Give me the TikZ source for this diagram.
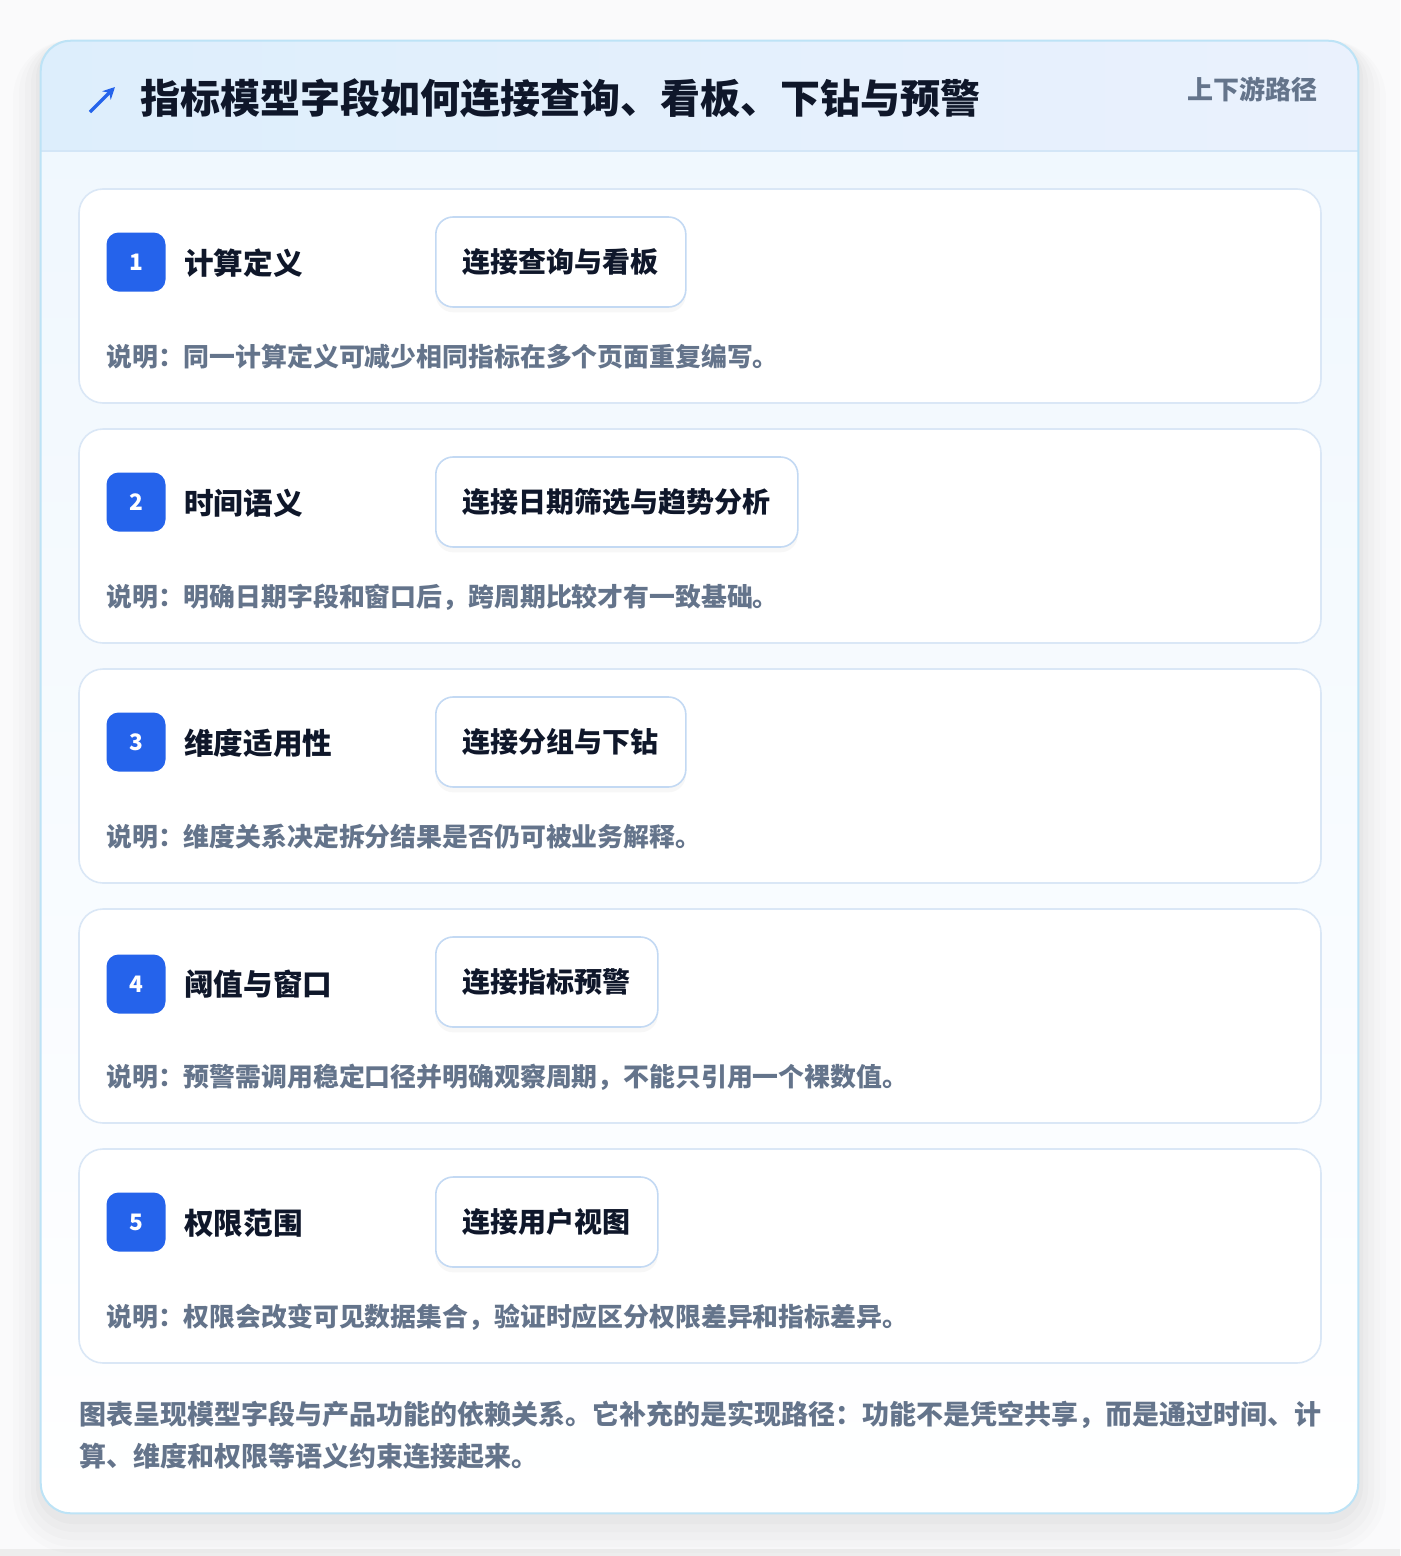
\documentclass[tikz,border=0pt]{standalone}
\usepackage{fontspec}
\setmainfont{Noto Sans CJK SC}
\usepackage{tikz}
\usetikzlibrary{arrows.meta,shadows}

\definecolor{markblue}{HTML}{2563EB}
\definecolor{inkdark}{HTML}{0F172A}
\definecolor{inkgray}{HTML}{64748B}
\definecolor{frameline}{HTML}{BDE3F6}
\definecolor{headleft}{HTML}{DDEEFC}
\definecolor{headright}{HTML}{EAF1FD}
\definecolor{headrule}{HTML}{D3E6F7}
\definecolor{bodytop}{HTML}{EFF7FE}
\definecolor{cardline}{HTML}{DAE7F6}
\definecolor{pillline}{HTML}{C3D9F3}
\definecolor{pagebg}{HTML}{FAFAFB}

\begin{document}
\begin{tikzpicture}[x=0.75pt, y=-0.75pt,
	card/.style={rectangle, rounded corners=18pt, draw=cardline, line width=1.2pt, fill=white, minimum width=931.5pt, minimum height=160.5pt, inner sep=0pt},
	badge/.style={rectangle, rounded corners=9pt, fill=markblue, text=white, minimum size=44.25pt, inner sep=0pt, font=\fontsize{17}{17}\selectfont\bfseries},
	cardtitle/.style={anchor=west, inner sep=0pt, text=inkdark, font=\fontsize{22.2}{22.2}\selectfont\bfseries},
	pill/.style={anchor=west, rectangle, rounded corners=13pt, draw=pillline, line width=1.2pt, fill=white, minimum height=67.5pt, inner xsep=20.25pt, text=inkdark, font=\fontsize{21}{21}\selectfont\bfseries, drop shadow={opacity=0.06, shadow xshift=0pt, shadow yshift=-4pt}},
	note/.style={anchor=west, inner sep=0pt, text=inkgray, font=\fontsize{19.4}{19.4}\selectfont\bfseries},
	foot/.style={anchor=west, inner sep=0pt, text=inkgray, font=\fontsize{20.25}{20.25}\selectfont\bfseries}]
	\useasboundingbox (0,0) rectangle (1400,1556);
	\fill[pagebg] (0,0) rectangle (1400,1556);
	\fill[black!7] (0,1549) rectangle (1400,1556);

	% soft shadow of the frame
	\fill[black, opacity=0.012, rounded corners=44pt] (13,40) rectangle (1386,1553);
	\fill[black, opacity=0.012, rounded corners=40pt] (19,40) rectangle (1380,1547);
	\fill[black, opacity=0.015, rounded corners=36pt] (25,40) rectangle (1374,1540);
	\fill[black, opacity=0.015, rounded corners=32pt] (31,41) rectangle (1368,1532);
	\fill[black, opacity=0.018, rounded corners=28pt] (36,41) rectangle (1363,1524);

	% frame and header band
	\node[rectangle, rounded corners=22.5pt, top color=bodytop, bottom color=white, minimum width=987.75pt, minimum height=1104pt, inner sep=0pt] (frame) at (699.5,777) {};
	\begin{scope}
		\clip[rounded corners=22.5pt] (41,41) rectangle (1358,1513);
		\fill[left color=headleft, right color=headright] (41,41) rectangle (1358,151);
	\end{scope}
	\draw[headrule, line width=1.2pt] (frame.west |- 0,151) -- (frame.east |- 0,151);
	\draw[frameline, line width=1.5pt, rounded corners=22.5pt] (frame.north west) rectangle (frame.south east);

	\coordinate (arrowtail) at (90,112);
	\coordinate (arrowhead) at (115,87);
	\draw[markblue, line width=2.4pt, -{Stealth[length=9pt,width=9pt]}] (arrowtail) -- (arrowhead);
	\node[anchor=west, inner sep=0pt, text=inkdark, font=\fontsize{30}{30}\selectfont\bfseries] (title) at (140,98) {指标模型字段如何连接查询、看板、下钻与预警};
	\node[anchor=east, inner sep=0pt, text=inkgray, font=\fontsize{19.5}{19.5}\selectfont\bfseries] (route) at (1318,89) {上下游路径};

	% card 1
	\node[card] (card1) at (700,296) {};
	\node[badge] (badge1) at (136,262) {1};
	\node[cardtitle] (name1) at (184,263) {计算定义};
	\node[pill] (link1) at (435,262) {连接查询与看板};
	\node[note] (note1) at (106,357) {说明：同一计算定义可减少相同指标在多个页面重复编写。};

	% card 2
	\node[card] (card2) at (700,536) {};
	\node[badge] (badge2) at (136,502) {2};
	\node[cardtitle] (name2) at (184,503) {时间语义};
	\node[pill] (link2) at (435,502) {连接日期筛选与趋势分析};
	\node[note] (note2) at (106,597) {说明：明确日期字段和窗口后，跨周期比较才有一致基础。};

	% card 3
	\node[card] (card3) at (700,776) {};
	\node[badge] (badge3) at (136,742) {3};
	\node[cardtitle] (name3) at (184,743) {维度适用性};
	\node[pill] (link3) at (435,742) {连接分组与下钻};
	\node[note] (note3) at (106,837) {说明：维度关系决定拆分结果是否仍可被业务解释。};

	% card 4
	\node[card] (card4) at (700,1016) {};
	\node[badge] (badge4) at (136,984) {4};
	\node[cardtitle] (name4) at (184,984) {阈值与窗口};
	\node[pill] (link4) at (435,982) {连接指标预警};
	\node[note] (note4) at (106,1077) {说明：预警需调用稳定口径并明确观察周期，不能只引用一个裸数值。};

	% card 5
	\node[card] (card5) at (700,1256) {};
	\node[badge] (badge5) at (136,1222) {5};
	\node[cardtitle] (name5) at (184,1223) {权限范围};
	\node[pill] (link5) at (435,1222) {连接用户视图};
	\node[note] (note5) at (106,1317) {说明：权限会改变可见数据集合，验证时应区分权限差异和指标差异。};

	\node[foot] (footA) at (79,1415) {图表呈现模型字段与产品功能的依赖关系。它补充的是实现路径：功能不是凭空共享，而是通过时间、计};
	\node[foot] (footB) at (79,1456) {算、维度和权限等语义约束连接起来。};
\end{tikzpicture}
\end{document}
